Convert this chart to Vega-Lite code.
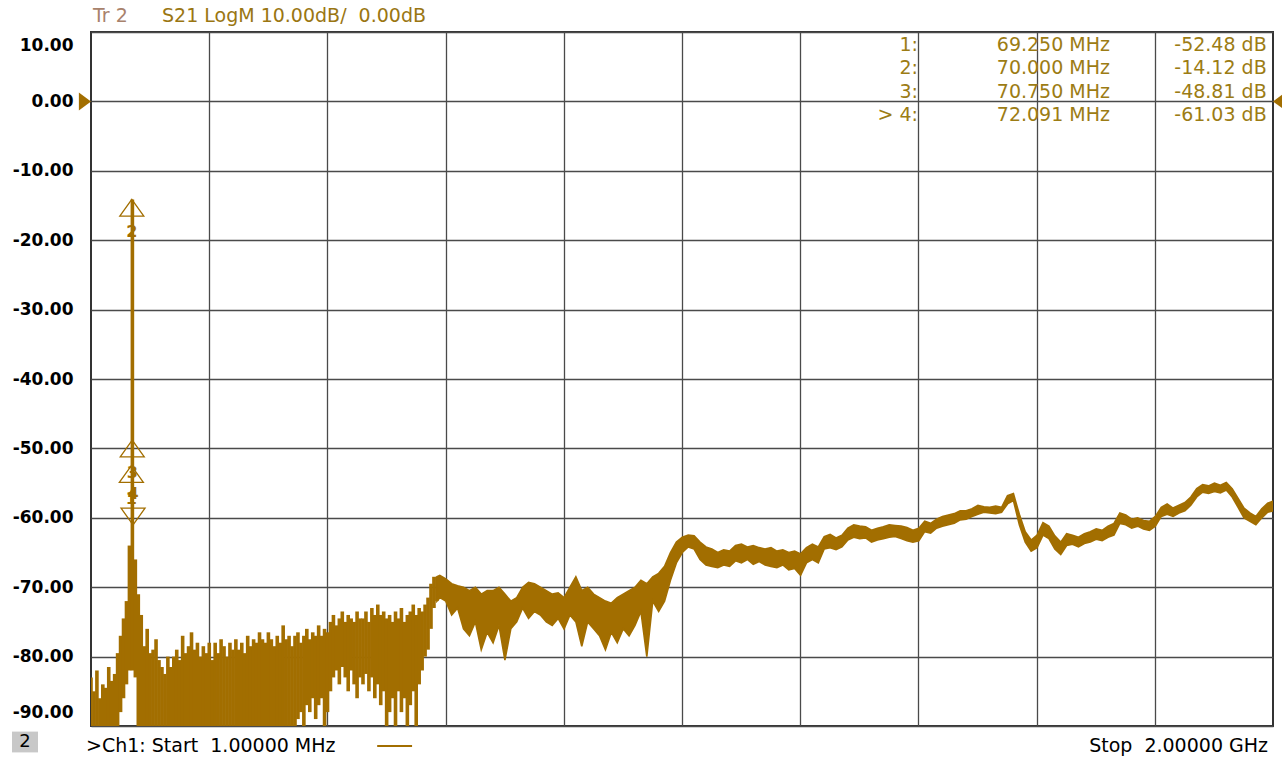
{
  "$schema": "https://vega.github.io/schema/vega-lite/v6.json",
  "width": 1182,
  "height": 694,
  "autosize": {"type": "none"},
  "padding": {"left": 91, "top": 32, "right": 9, "bottom": 34},
  "background": "white",
  "config": {"view": {"stroke": "#333333", "strokeWidth": 2, "fill": "white"}, "font": "DejaVu Sans"},
  "datasets": {
    "noisy": [
      {"f":1,"lo":-90,"hi":-83},{"f":6,"lo":-90,"hi":-85},{"f":11,"lo":-90,"hi":-82},{"f":16,"lo":-90,"hi":-86},{"f":21,"lo":-90,"hi":-84},{"f":26,"lo":-90,"hi":-84.5},{"f":31,"lo":-90,"hi":-81.5},{"f":36,"lo":-90,"hi":-83.5},{"f":41,"lo":-90,"hi":-82.5},{"f":46,"lo":-90,"hi":-79.5},{"f":51,"lo":-88,"hi":-77},{"f":56,"lo":-86,"hi":-74.5},{"f":61,"lo":-84,"hi":-72},{"f":66,"lo":-82,"hi":-64},{"f":71,"lo":-82,"hi":-14.12},{"f":76,"lo":-83,"hi":-66},{"f":81,"lo":-90,"hi":-71},{"f":86,"lo":-90,"hi":-74},{"f":91,"lo":-90,"hi":-78.5},{"f":96,"lo":-90,"hi":-76},{"f":101,"lo":-90,"hi":-79.5},{"f":106,"lo":-90,"hi":-79},{"f":111,"lo":-90,"hi":-77.5},{"f":116,"lo":-90,"hi":-80.5},{"f":121,"lo":-90,"hi":-81.5},{"f":126,"lo":-90,"hi":-82.5},{"f":131,"lo":-90,"hi":-80},{"f":136,"lo":-90,"hi":-81.5},{"f":141,"lo":-90,"hi":-80},{"f":146,"lo":-90,"hi":-79},{"f":151,"lo":-90,"hi":-80.5},{"f":156,"lo":-90,"hi":-77},{"f":161,"lo":-90,"hi":-79.5},{"f":166,"lo":-90,"hi":-78.5},{"f":171,"lo":-90,"hi":-76.5},{"f":176,"lo":-90,"hi":-79},{"f":181,"lo":-90,"hi":-78},{"f":186,"lo":-90,"hi":-80},{"f":191,"lo":-90,"hi":-78.5},{"f":196,"lo":-90,"hi":-79.5},{"f":201,"lo":-90,"hi":-78},{"f":206,"lo":-90,"hi":-80.5},{"f":211,"lo":-90,"hi":-78},{"f":216,"lo":-90,"hi":-79.5},{"f":221,"lo":-90,"hi":-77.5},{"f":226,"lo":-90,"hi":-78.5},{"f":231,"lo":-90,"hi":-80},{"f":236,"lo":-90,"hi":-78},{"f":241,"lo":-90,"hi":-79},{"f":246,"lo":-90,"hi":-77.5},{"f":251,"lo":-90,"hi":-79},{"f":256,"lo":-90,"hi":-78},{"f":261,"lo":-90,"hi":-79.5},{"f":266,"lo":-90,"hi":-77},{"f":271,"lo":-90,"hi":-78.5},{"f":276,"lo":-90,"hi":-77.5},{"f":281,"lo":-90,"hi":-78},{"f":286,"lo":-90,"hi":-76.5},{"f":291,"lo":-90,"hi":-77.5},{"f":296,"lo":-90,"hi":-78},{"f":301,"lo":-90,"hi":-76.5},{"f":306,"lo":-90,"hi":-77.5},{"f":311,"lo":-90,"hi":-78.5},{"f":316,"lo":-90,"hi":-77},{"f":321,"lo":-90,"hi":-78},{"f":326,"lo":-90,"hi":-75.5},{"f":331,"lo":-90,"hi":-77.5},{"f":336,"lo":-90,"hi":-77},{"f":341,"lo":-90,"hi":-78.5},{"f":346,"lo":-90,"hi":-77},{"f":351,"lo":-89,"hi":-76.5},{"f":356,"lo":-88,"hi":-78},{"f":361,"lo":-90,"hi":-77},{"f":366,"lo":-87,"hi":-76},{"f":371,"lo":-88,"hi":-77.5},{"f":376,"lo":-86,"hi":-76.5},{"f":381,"lo":-89,"hi":-77},{"f":386,"lo":-87,"hi":-75.5},{"f":391,"lo":-86,"hi":-77},{"f":396,"lo":-90,"hi":-76},{"f":401,"lo":-88,"hi":-76.5},{"f":406,"lo":-85,"hi":-75},{"f":411,"lo":-83,"hi":-74},{"f":416,"lo":-82,"hi":-75.5},{"f":421,"lo":-84,"hi":-74.5},{"f":426,"lo":-81.5,"hi":-73.5},{"f":431,"lo":-83,"hi":-75},{"f":436,"lo":-85,"hi":-74},{"f":441,"lo":-82,"hi":-74.5},{"f":446,"lo":-84,"hi":-75},{"f":451,"lo":-86,"hi":-73.5},{"f":456,"lo":-83,"hi":-74.5},{"f":461,"lo":-84,"hi":-74.5},{"f":466,"lo":-82.5,"hi":-73.5},{"f":471,"lo":-85,"hi":-75},{"f":476,"lo":-83,"hi":-73},{"f":481,"lo":-86,"hi":-74},{"f":486,"lo":-84,"hi":-72.5},{"f":491,"lo":-87,"hi":-74},{"f":496,"lo":-85,"hi":-73.5},{"f":501,"lo":-90,"hi":-74.5},{"f":506,"lo":-88,"hi":-74},{"f":511,"lo":-86,"hi":-75},{"f":516,"lo":-90,"hi":-73.5},{"f":521,"lo":-85,"hi":-74.5},{"f":526,"lo":-88,"hi":-73},{"f":531,"lo":-86,"hi":-75},{"f":536,"lo":-90,"hi":-74},{"f":541,"lo":-87,"hi":-73.5},{"f":546,"lo":-85,"hi":-72.5},{"f":551,"lo":-90,"hi":-74},{"f":556,"lo":-84,"hi":-73},{"f":561,"lo":-82,"hi":-73.5},{"f":566,"lo":-80,"hi":-72.5},{"f":571,"lo":-79,"hi":-71.5},{"f":576,"lo":-76,"hi":-69.5},{"f":581,"lo":-73,"hi":-68.5},{"f":586,"lo":-72,"hi":-68.5}
    ],
    "band": [
      {"f":586,"lo":-72,"hi":-68.5},{"f":591,"lo":-71.5,"hi":-68.3},{"f":601,"lo":-72,"hi":-68.8},{"f":611,"lo":-74,"hi":-69.5},{"f":621,"lo":-73,"hi":-69.8},{"f":631,"lo":-76,"hi":-70},{"f":641,"lo":-77,"hi":-70.5},{"f":651,"lo":-75,"hi":-70},{"f":661,"lo":-79,"hi":-71},{"f":671,"lo":-76.5,"hi":-70.5},{"f":681,"lo":-78,"hi":-70.5},{"f":691,"lo":-75.5,"hi":-70},{"f":701,"lo":-80.5,"hi":-71},{"f":711,"lo":-76,"hi":-72},{"f":721,"lo":-75,"hi":-71.5},{"f":731,"lo":-73,"hi":-70},{"f":741,"lo":-74.5,"hi":-69.3},{"f":751,"lo":-73.5,"hi":-69.5},{"f":761,"lo":-74,"hi":-70},{"f":771,"lo":-75,"hi":-70.5},{"f":781,"lo":-75.5,"hi":-71},{"f":791,"lo":-74.5,"hi":-70.8},{"f":801,"lo":-76,"hi":-71.5},{"f":811,"lo":-74,"hi":-70},{"f":821,"lo":-75,"hi":-68.5},{"f":831,"lo":-78.5,"hi":-70.5},{"f":841,"lo":-75,"hi":-70},{"f":851,"lo":-76,"hi":-71},{"f":861,"lo":-77,"hi":-71.5},{"f":871,"lo":-79,"hi":-72},{"f":881,"lo":-76.5,"hi":-72.3},{"f":891,"lo":-78,"hi":-71.5},{"f":901,"lo":-76,"hi":-71},{"f":911,"lo":-77,"hi":-70.5},{"f":921,"lo":-75.5,"hi":-70},{"f":931,"lo":-73.5,"hi":-69},{"f":941,"lo":-80,"hi":-69.5},{"f":951,"lo":-72,"hi":-68.5},{"f":961,"lo":-73.5,"hi":-68},{"f":971,"lo":-72,"hi":-67},{"f":981,"lo":-69,"hi":-65},{"f":991,"lo":-66.5,"hi":-63.5},{"f":1001,"lo":-65,"hi":-62.8},{"f":1011,"lo":-64.2,"hi":-62.5},{"f":1021,"lo":-64.5,"hi":-62.6},{"f":1031,"lo":-66,"hi":-63.5},{"f":1041,"lo":-66.8,"hi":-64.2},{"f":1051,"lo":-67,"hi":-64.5},{"f":1061,"lo":-67.2,"hi":-65},{"f":1071,"lo":-66.8,"hi":-64.6},{"f":1081,"lo":-67,"hi":-64.8},{"f":1091,"lo":-66.2,"hi":-64},{"f":1101,"lo":-66.5,"hi":-63.8},{"f":1111,"lo":-66,"hi":-64.2},{"f":1121,"lo":-66.7,"hi":-64},{"f":1131,"lo":-66.3,"hi":-64.3},{"f":1141,"lo":-66.8,"hi":-64.5},{"f":1151,"lo":-67,"hi":-64.3},{"f":1161,"lo":-67.2,"hi":-64.8},{"f":1171,"lo":-66.8,"hi":-64.6},{"f":1181,"lo":-67.5,"hi":-65},{"f":1191,"lo":-67.3,"hi":-64.8},{"f":1201,"lo":-68.3,"hi":-65.2},{"f":1211,"lo":-66.5,"hi":-64.3},{"f":1221,"lo":-66,"hi":-63.8},{"f":1231,"lo":-66.5,"hi":-64.2},{"f":1241,"lo":-64.5,"hi":-62.7},{"f":1251,"lo":-64.3,"hi":-62.4},{"f":1261,"lo":-64.6,"hi":-62.9},{"f":1271,"lo":-64.2,"hi":-62.5},{"f":1281,"lo":-63.2,"hi":-61.5},{"f":1291,"lo":-62.8,"hi":-61},{"f":1301,"lo":-63,"hi":-61.2},{"f":1311,"lo":-62.9,"hi":-61.3},{"f":1321,"lo":-63.5,"hi":-61.8},{"f":1331,"lo":-63.2,"hi":-61.5},{"f":1341,"lo":-63,"hi":-61.3},{"f":1351,"lo":-62.8,"hi":-61},{"f":1361,"lo":-62.7,"hi":-61.1},{"f":1371,"lo":-63,"hi":-61.2},{"f":1381,"lo":-63.3,"hi":-61.4},{"f":1391,"lo":-63.5,"hi":-61.8},{"f":1401,"lo":-63.3,"hi":-61.5},{"f":1411,"lo":-62,"hi":-60.5},{"f":1421,"lo":-62.2,"hi":-60.8},{"f":1431,"lo":-61.5,"hi":-60.2},{"f":1441,"lo":-61.2,"hi":-59.8},{"f":1451,"lo":-61,"hi":-59.6},{"f":1461,"lo":-60.8,"hi":-59.4},{"f":1471,"lo":-60.3,"hi":-59},{"f":1481,"lo":-60.2,"hi":-59},{"f":1491,"lo":-59.8,"hi":-58.7},{"f":1501,"lo":-59.5,"hi":-58.2},{"f":1511,"lo":-59.2,"hi":-58.4},{"f":1521,"lo":-59.3,"hi":-58.5},{"f":1531,"lo":-59.4,"hi":-58.3},{"f":1541,"lo":-59.2,"hi":-58.5},{"f":1551,"lo":-58,"hi":-56.8},{"f":1561,"lo":-57.5,"hi":-56.5},{"f":1571,"lo":-61,"hi":-59.5},{"f":1581,"lo":-63.5,"hi":-62},{"f":1591,"lo":-64.8,"hi":-63.2},{"f":1601,"lo":-64.3,"hi":-62.5},{"f":1611,"lo":-62.5,"hi":-60.7},{"f":1621,"lo":-63,"hi":-61.2},{"f":1631,"lo":-64.5,"hi":-62.6},{"f":1641,"lo":-65.3,"hi":-63.5},{"f":1651,"lo":-64,"hi":-62.3},{"f":1661,"lo":-63.8,"hi":-62.5},{"f":1671,"lo":-64.2,"hi":-62.8},{"f":1681,"lo":-63.7,"hi":-62.3},{"f":1691,"lo":-63.5,"hi":-62},{"f":1701,"lo":-63.1,"hi":-61.6},{"f":1711,"lo":-63.3,"hi":-61.8},{"f":1721,"lo":-62.8,"hi":-61.2},{"f":1731,"lo":-62.5,"hi":-60.8},{"f":1741,"lo":-60.8,"hi":-59.3},{"f":1751,"lo":-61,"hi":-59.6},{"f":1761,"lo":-61.5,"hi":-60.2},{"f":1771,"lo":-61.2,"hi":-60},{"f":1781,"lo":-61.6,"hi":-60.4},{"f":1791,"lo":-61.8,"hi":-60.5},{"f":1801,"lo":-61.2,"hi":-59.8},{"f":1811,"lo":-59.8,"hi":-58.5},{"f":1821,"lo":-59.5,"hi":-58},{"f":1831,"lo":-59.8,"hi":-58.6},{"f":1841,"lo":-59.3,"hi":-58.2},{"f":1851,"lo":-59,"hi":-57.8},{"f":1861,"lo":-58.2,"hi":-57},{"f":1871,"lo":-57,"hi":-55.8},{"f":1881,"lo":-56.3,"hi":-55.2},{"f":1891,"lo":-56.5,"hi":-55.4},{"f":1901,"lo":-56.2,"hi":-55},{"f":1911,"lo":-56.4,"hi":-55.3},{"f":1921,"lo":-56,"hi":-54.9},{"f":1931,"lo":-57,"hi":-55.8},{"f":1941,"lo":-58.5,"hi":-57.2},{"f":1951,"lo":-60,"hi":-58.6},{"f":1961,"lo":-60.5,"hi":-59.3},{"f":1971,"lo":-61,"hi":-59.8},{"f":1981,"lo":-60,"hi":-58.7},{"f":1991,"lo":-59.2,"hi":-57.9},{"f":2000,"lo":-59,"hi":-57.6}
    ],
    "markers": [
      {"m":"1","f":69.25,"db":-52.48,"act":false},
      {"m":"2","f":70.0,"db":-14.12,"act":false},
      {"m":"3","f":70.75,"db":-48.81,"act":false},
      {"m":"4","f":72.091,"db":-61.03,"act":true}
    ],
    "table": [
      {"r":1,"n":"1:","fs":"69.250 MHz","ds":"-52.48 dB"},
      {"r":2,"n":"2:","fs":"70.000 MHz","ds":"-14.12 dB"},
      {"r":3,"n":"3:","fs":"70.750 MHz","ds":"-48.81 dB"},
      {"r":4,"n":"> 4:","fs":"72.091 MHz","ds":"-61.03 dB"}
    ]
  },
  "layer": [
    {
      "layer": [
        {
          "data": {"name": "noisy"},
          "mark": {"type": "rule", "color": "#A26E00", "strokeWidth": 3.6, "clip": true},
          "encoding": {
            "x": {
              "field": "f", "type": "quantitative",
              "scale": {"domain": [1, 2000], "nice": false, "zero": false},
              "axis": {"values": [200.9, 400.8, 600.7, 800.6, 1000.5, 1200.4, 1400.3, 1600.2, 1800.1], "grid": true, "labels": false, "ticks": false, "domain": false, "title": null, "gridColor": "#4a4a4a", "gridWidth": 1.3, "gridOpacity": 1}
            },
            "y": {
              "field": "hi", "type": "quantitative",
              "scale": {"domain": [-90, 10], "nice": false, "zero": false},
              "axis": {"values": [-90, -80, -70, -60, -50, -40, -30, -20, -10, 0, 10], "grid": true, "ticks": false, "domain": false, "title": null, "gridColor": "#4a4a4a", "gridWidth": 1.3, "gridOpacity": 1, "labelExpr": "(datum.value < 0 ? '-' : '') + format(abs(datum.value), '.2f')", "labelFont": "DejaVu Sans", "labelFontWeight": "bold", "labelFontSize": 17, "labelColor": "#000000", "labelPadding": 18, "labelFlush": true, "labelFlushOffset": -5}
            },
            "y2": {"field": "lo"}
          }
        },
        {
          "data": {"name": "band"},
          "mark": {"type": "area", "color": "#A26E00", "stroke": "#A26E00", "strokeWidth": 1.6, "opacity": 1, "clip": true},
          "encoding": {
            "x": {"field": "f", "type": "quantitative"},
            "y": {"field": "hi", "type": "quantitative"},
            "y2": {"field": "lo"}
          }
        },
        {
          "data": {"values": [{"ref": 0}]},
          "mark": {"type": "point", "shape": "M0,0L-1.35,-1L-1.35,1Z", "size": 324, "filled": true, "color": "#A26E00", "opacity": 1},
          "encoding": {"x": {"datum": 1}, "y": {"field": "ref", "type": "quantitative"}}
        },
        {
          "data": {"values": [{"ref": 0}]},
          "mark": {"type": "point", "shape": "M0,0L1.35,-1L1.35,1Z", "size": 324, "filled": true, "color": "#A26E00", "opacity": 1},
          "encoding": {"x": {"datum": 2000}, "y": {"field": "ref", "type": "quantitative"}}
        },
        {
          "data": {"name": "markers"},
          "transform": [{"filter": "!datum.act"}],
          "mark": {"type": "point", "shape": "M0,0L1,1.4L-1,1.4Z", "size": 576, "filled": false, "color": "#A26E00", "strokeWidth": 1.3, "opacity": 1},
          "encoding": {"x": {"field": "f", "type": "quantitative"}, "y": {"field": "db", "type": "quantitative"}}
        },
        {
          "data": {"name": "markers"},
          "transform": [{"filter": "datum.act"}],
          "mark": {"type": "point", "shape": "M0,0L1,-1.4L-1,-1.4Z", "size": 576, "filled": false, "color": "#A26E00", "strokeWidth": 1.3, "opacity": 1},
          "encoding": {"x": {"field": "f", "type": "quantitative"}, "y": {"field": "db", "type": "quantitative"}}
        },
        {
          "data": {"name": "markers"},
          "transform": [{"filter": "!datum.act"}],
          "mark": {"type": "text", "dy": 33, "align": "center", "baseline": "middle", "font": "DejaVu Sans", "fontWeight": "bold", "fontSize": 16, "color": "#A26E00"},
          "encoding": {"x": {"field": "f", "type": "quantitative"}, "y": {"field": "db", "type": "quantitative"}, "text": {"field": "m"}}
        },
        {
          "data": {"name": "markers"},
          "transform": [{"filter": "datum.act"}],
          "mark": {"type": "text", "dy": -31, "align": "center", "baseline": "middle", "font": "DejaVu Sans", "fontWeight": "bold", "fontSize": 16, "color": "#A26E00"},
          "encoding": {"x": {"field": "f", "type": "quantitative"}, "y": {"field": "db", "type": "quantitative"}, "text": {"field": "m"}}
        },
        {
          "data": {"values": [{"t": "Tr 2"}]},
          "mark": {"type": "text", "dx": 2, "dy": -16, "align": "left", "baseline": "middle", "font": "DejaVu Sans", "fontSize": 19, "color": "#A8826C"},
          "encoding": {"x": {"datum": 1}, "y": {"datum": 10}, "text": {"field": "t"}}
        },
        {
          "data": {"values": [{"t": "S21 LogM 10.00dB/\u00a0 0.00dB"}]},
          "mark": {"type": "text", "dx": 71, "dy": -16, "align": "left", "baseline": "middle", "font": "DejaVu Sans", "fontSize": 19, "color": "#9A7612"},
          "encoding": {"x": {"datum": 1}, "y": {"datum": 10}, "text": {"field": "t"}}
        },
        {
          "data": {"values": [{"t": "2"}]},
          "mark": {"type": "point", "shape": "M-1,-0.8L1,-0.8L1,0.8L-1,0.8Z", "size": 676, "filled": true, "color": "#c8c8c8", "opacity": 1, "xOffset": -66, "yOffset": 16},
          "encoding": {"x": {"datum": 1}, "y": {"datum": -90}}
        },
        {
          "data": {"values": [{"t": "2"}]},
          "mark": {"type": "text", "dx": -66, "dy": 16, "align": "center", "baseline": "middle", "font": "DejaVu Sans", "fontSize": 18, "color": "#000000"},
          "encoding": {"x": {"datum": 1}, "y": {"datum": -90}, "text": {"field": "t"}}
        },
        {
          "data": {"values": [{"t": ">Ch1: Start\u00a0 1.00000 MHz"}]},
          "mark": {"type": "text", "dx": -5, "dy": 20, "align": "left", "baseline": "middle", "font": "DejaVu Sans", "fontSize": 19, "color": "#000000"},
          "encoding": {"x": {"datum": 1}, "y": {"datum": -90}, "text": {"field": "t"}}
        },
        {
          "data": {"values": [{"a": 485, "b": 544}]},
          "mark": {"type": "rule", "color": "#A26E00", "strokeWidth": 2, "yOffset": 20},
          "encoding": {"x": {"field": "a", "type": "quantitative"}, "x2": {"field": "b"}, "y": {"datum": -90}}
        },
        {
          "data": {"values": [{"t": "Stop\u00a0 2.00000 GHz"}]},
          "mark": {"type": "text", "dx": -5, "dy": 20, "align": "right", "baseline": "middle", "font": "DejaVu Sans", "fontSize": 19, "color": "#000000"},
          "encoding": {"x": {"datum": 2000}, "y": {"datum": -90}, "text": {"field": "t"}}
        }
      ]
    },
    {
      "data": {"name": "table"},
      "encoding": {
        "y": {"field": "r", "type": "quantitative", "scale": {"domain": [0.468, 30.0], "reverse": true, "nice": false, "zero": false}, "axis": null}
      },
      "layer": [
        {
          "mark": {"type": "text", "align": "right", "baseline": "middle", "font": "DejaVu Sans", "fontSize": 19, "color": "#9C7C14"},
          "encoding": {"x": {"datum": 1399.6}, "text": {"field": "n"}}
        },
        {
          "mark": {"type": "text", "align": "right", "baseline": "middle", "font": "DejaVu Sans", "fontSize": 19, "color": "#9C7C14"},
          "encoding": {"x": {"datum": 1724.3}, "text": {"field": "fs"}}
        },
        {
          "mark": {"type": "text", "align": "right", "baseline": "middle", "font": "DejaVu Sans", "fontSize": 19, "color": "#9C7C14"},
          "encoding": {"x": {"datum": 1989.3}, "text": {"field": "ds"}}
        }
      ]
    }
  ],
  "resolve": {"scale": {"y": "independent"}}
}
